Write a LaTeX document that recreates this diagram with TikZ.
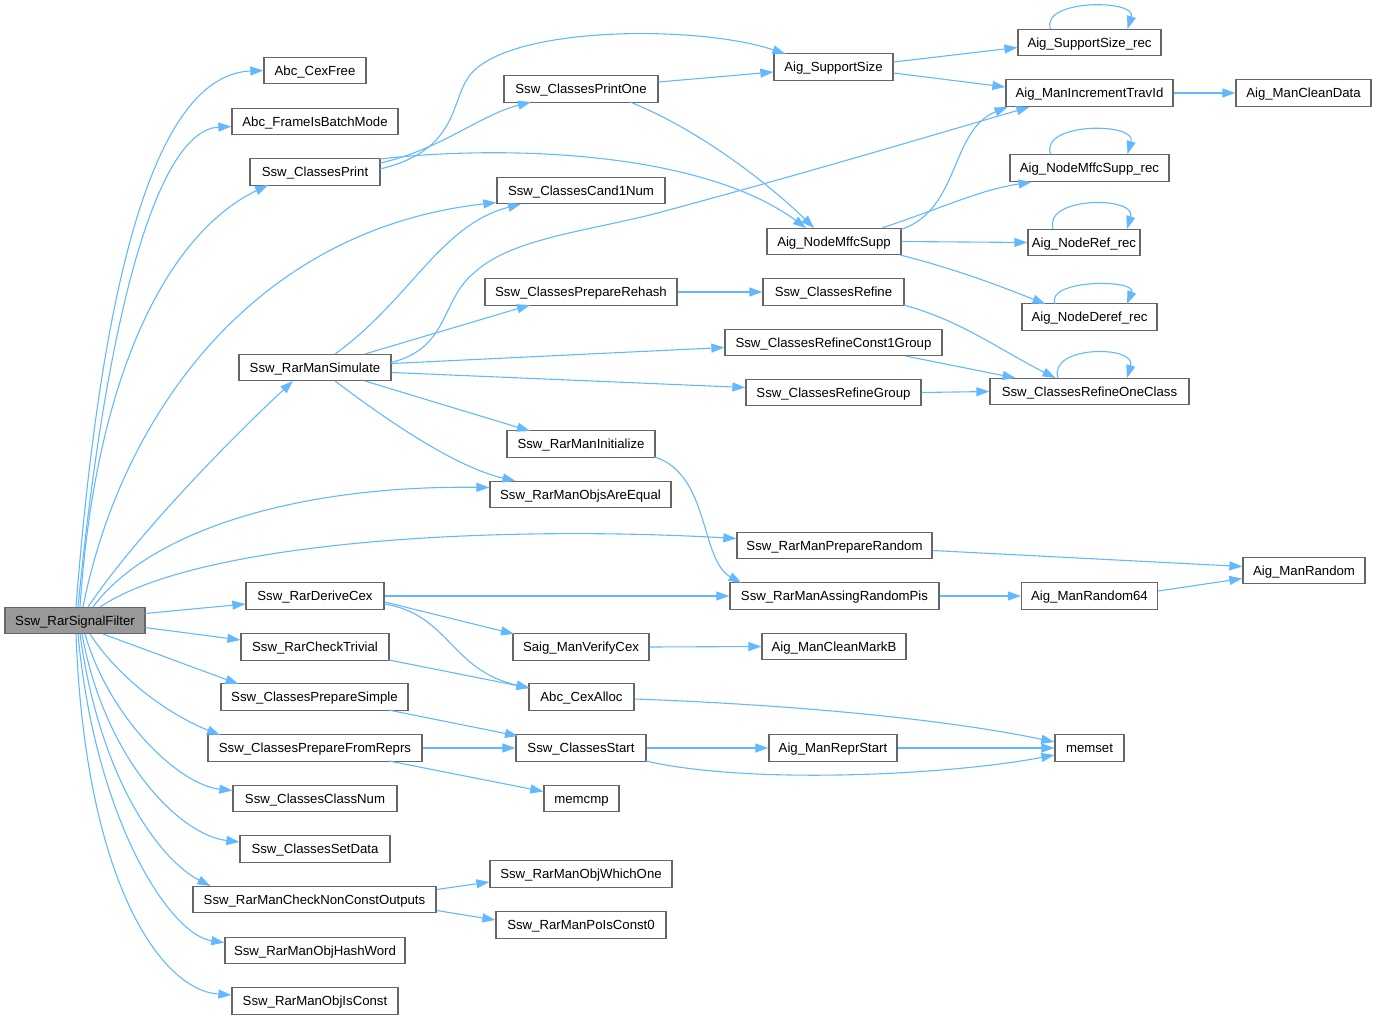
\documentclass[tikz,border=0pt]{standalone}
\usepackage{fontspec}
\setmainfont{Liberation Sans}
\usetikzlibrary{arrows.meta,calc}
\definecolor{edgeblue}{HTML}{63B8FF}
\definecolor{boxgray}{HTML}{666666}
\definecolor{rootfill}{HTML}{999999}
\begin{document}
\begin{tikzpicture}[x=1pt,y=-1pt,
  box/.style={draw=boxgray, line width=1.3pt, fill=white, minimum height=26.5pt, inner sep=0pt, text height=9.5pt, text depth=0pt, font=\fontsize{13.2}{15}\selectfont},
  root/.style={box, fill=rootfill},
  e/.style={draw=edgeblue, line width=1.1pt, -{Triangle[length=13pt,width=9pt]}}]
\useasboundingbox (0,0) rectangle (1377,1020);
% column 1
\node[root, minimum width=140] (f0) at (75,620.5) {Ssw\_RarSignalFilter};
% column 2
\node[box, minimum width=102] (cexfree) at (315,70.5) {Abc\_CexFree};
\node[box, minimum width=166] (batch) at (315,121.5) {Abc\_FrameIsBatchMode};
\node[box, minimum width=130] (cprint) at (315,172) {Ssw\_ClassesPrint};
\node[box, minimum width=152] (sim) at (315,367.5) {Ssw\_RarManSimulate};
\node[box, minimum width=138] (derive) at (315,596) {Ssw\_RarDeriveCex};
\node[box, minimum width=148] (trivial) at (315,647) {Ssw\_RarCheckTrivial};
\node[box, minimum width=187] (psimple) at (314.5,697) {Ssw\_ClassesPrepareSimple};
\node[box, minimum width=214] (preprs) at (315,748) {Ssw\_ClassesPrepareFromReprs};
\node[box, minimum width=164] (classnum) at (315,798.5) {Ssw\_ClassesClassNum};
\node[box, minimum width=150] (setdata) at (315,849) {Ssw\_ClassesSetData};
\node[box, minimum width=243] (nonconst) at (314.5,899.5) {Ssw\_RarManCheckNonConstOutputs};
\node[box, minimum width=180] (hash) at (315,950.5) {Ssw\_RarManObjHashWord};
\node[box, minimum width=166] (isconst) at (315,1001) {Ssw\_RarManObjIsConst};
% column 3
\node[box, minimum width=154] (printone) at (581,89) {Ssw\_ClassesPrintOne};
\node[box, minimum width=168] (cand) at (581,190.5) {Ssw\_ClassesCand1Num};
\node[box, minimum width=192] (rehash) at (581,292) {Ssw\_ClassesPrepareRehash};
\node[box, minimum width=148] (init) at (581,444) {Ssw\_RarManInitialize};
\node[box, minimum width=181] (equal) at (580.5,494.5) {Ssw\_RarManObjsAreEqual};
\node[box, minimum width=136] (verify) at (581,647) {Saig\_ManVerifyCex};
\node[box, minimum width=105] (alloc) at (581.5,697) {Abc\_CexAlloc};
\node[box, minimum width=130] (start) at (581,748) {Ssw\_ClassesStart};
\node[box, minimum width=75] (memcmp) at (581.5,798.5) {memcmp};
\node[box, minimum width=182] (which) at (581,874) {Ssw\_RarManObjWhichOne};
\node[box, minimum width=170] (po) at (581,925) {Ssw\_RarManPoIsConst0};
% column 4
\node[box, minimum width=119] (supp) at (833.5,67) {Aig\_SupportSize};
\node[box, minimum width=134] (mffc) at (834,241.5) {Aig\_NodeMffcSupp};
\node[box, minimum width=141] (refine) at (833.5,292) {Ssw\_ClassesRefine};
\node[box, minimum width=217] (const1) at (833.5,342.5) {Ssw\_ClassesRefineConst1Group};
\node[box, minimum width=175] (rgroup) at (833.5,392.5) {Ssw\_ClassesRefineGroup};
\node[box, minimum width=195] (prand) at (834.5,545.5) {Ssw\_RarManPrepareRandom};
\node[box, minimum width=209] (assign) at (834.5,596) {Ssw\_RarManAssingRandomPis};
\node[box, minimum width=144] (markb) at (834,646.5) {Aig\_ManCleanMarkB};
\node[box, minimum width=128] (repr) at (833,748) {Aig\_ManReprStart};
% column 5
\node[box, minimum width=143] (supprec) at (1089.5,42.5) {Aig\_SupportSize\_rec};
\node[box, minimum width=167] (travid) at (1089.5,93) {Aig\_ManIncrementTravId};
\node[box, minimum width=159] (mffcrec) at (1089.5,168) {Aig\_NodeMffcSupp\_rec};
\node[box, minimum width=112] (refrec) at (1084,242.5) {Aig\_NodeRef\_rec};
\node[box, minimum width=135] (derefrec) at (1089.5,317) {Aig\_NodeDeref\_rec};
\node[box, minimum width=199] (oneclass) at (1089.5,391.5) {Ssw\_ClassesRefineOneClass};
\node[box, minimum width=136] (rand64) at (1089.5,596) {Aig\_ManRandom64};
\node[box, minimum width=69] (memset) at (1089.5,748) {memset};
% column 6
\node[box, minimum width=135] (cleandata) at (1303.5,93) {Aig\_ManCleanData};
\node[box, minimum width=122] (rand) at (1304,570.5) {Aig\_ManRandom};

% edges from root
\draw[e] ($(f0)+(1,-13.5)$) .. controls (100,300) and (150,75) .. (cexfree.west);
\draw[e] ($(f0)+(3,-13.5)$) .. controls (108,300) and (160,130) .. ($(batch.west)+(0,5)$);
\draw[e] ($(f0)+(5,-13.5)$) .. controls (95,380) and (165,235) .. ($(cprint)+(-47,13)$);
\draw[e] ($(f0)+(8,-13.5)$) .. controls (120,420) and (250,230) .. ($(cand.west)+(0,12)$);
\draw[e] ($(f0)+(13,-13.5)$) .. controls (140,530) and (240,430) .. ($(sim)+(-22,13.5)$);
\draw[e] ($(f0)+(18,-13.5)$) .. controls (150,530) and (300,485) .. ($(equal.west)+(0,-7)$);
\draw[e] ($(f0)+(25,-13.5)$) .. controls (200,540) and (500,525) .. ($(prand.west)+(0,-7)$);
\draw[e] ($(f0)+(70,-7)$) -- ($(derive.west)+(0,8)$);
\draw[e] ($(f0)+(70,7)$) -- ($(trivial.west)+(0,-7)$);
\draw[e] ($(f0)+(28,13.5)$) -- ($(psimple)+(-76,-13)$);
\draw[e] ($(f0)+(15,13.5)$) .. controls (120,680) and (170,715) .. ($(preprs)+(-95,-13)$);
\draw[e] ($(f0)+(10,13.5)$) .. controls (110,720) and (180,785) .. ($(classnum.west)+(0,-8)$);
\draw[e] ($(f0)+(7,13.5)$) .. controls (105,760) and (180,835) .. ($(setdata.west)+(0,-7)$);
\draw[e] ($(f0)+(5,13.5)$) .. controls (100,780) and (160,860) .. ($(nonconst)+(-104,-13.5)$);
\draw[e] ($(f0)+(3,13.5)$) .. controls (95,820) and (170,935) .. ($(hash.west)+(0,-8)$);
\draw[e] ($(f0)+(1,13.5)$) .. controls (85,880) and (160,990) .. ($(isconst.west)+(0,-6)$);

% Ssw_ClassesPrint
\draw[e] ($(cprint)+(65,-9)$) .. controls (440,150) and (480,115) .. ($(printone)+(-50,13)$);
\draw[e] ($(cprint)+(65,-3)$) .. controls (460,150) and (450,100) .. (470,75) .. controls (510,25) and (700,25) .. ($(supp)+(-48,-13)$);
\draw[e] ($(cprint)+(65,-13)$) .. controls (500,145) and (700,150) .. ($(mffc)+(-28,-13.5)$);
% Ssw_ClassesPrintOne
\draw[e] ($(printone.east)+(0,-7)$) -- ($(supp.west)+(0,5)$);
\draw[e] ($(printone)+(49,13)$) .. controls (700,130) and (770,185) .. ($(mffc)+(-20,-13.5)$);
% Aig_SupportSize
\draw[e] ($(supp.east)+(0,-5)$) -- ($(supprec.west)+(0,5)$);
\draw[e] ($(supp.east)+(0,6)$) -- ($(travid.west)+(0,-6)$);
\draw[e] (travid.east) -- (cleandata.west);
% Aig_NodeMffcSupp
\draw[e] ($(mffc)+(67,-12)$) .. controls (960,210) and (950,130) .. ($(travid)+(-82,14)$);
\draw[e] ($(mffc)+(48,-13.5)$) .. controls (950,205) and (980,190) .. ($(mffcrec)+(-58,14)$);
\draw[e] (mffc.east) -- (refrec.west);
\draw[e] ($(mffc)+(66,13.5)$) .. controls (960,270) and (1010,290) .. ($(derefrec)+(-44,-13)$);
% Ssw_RarManSimulate
\draw[e] ($(sim)+(20,-13.5)$) .. controls (410,300) and (440,225) .. ($(cand)+(-60,13.5)$);
\draw[e] ($(sim)+(76,-5)$) .. controls (450,348) and (440,300) .. (475,272) .. controls (510,240) and (580,232) .. (650,215) .. controls (800,175) and (950,130) .. ($(travid)+(-60,14)$);
\draw[e] ($(sim)+(50,-13.5)$) -- ($(rehash)+(-51,13)$);
\draw[e] ($(sim.east)+(0,-4)$) -- ($(const1.west)+(0,5)$);
\draw[e] ($(sim.east)+(0,5)$) -- ($(rgroup.west)+(0,-5)$);
\draw[e] ($(sim)+(50,13.5)$) -- ($(init)+(-51,-13)$);
\draw[e] ($(sim)+(20,13.5)$) .. controls (400,430) and (460,468) .. ($(equal)+(-65,-13.5)$);
% refine family
\draw[e] (rehash.east) -- (refine.west);
\draw[e] ($(refine)+(70,13)$) .. controls (960,320) and (1000,350) .. ($(oneclass)+(-34,-13.5)$);
\draw[e] ($(const1)+(72,13.5)$) -- ($(oneclass)+(-74,-13.5)$);
\draw[e] (rgroup.east) -- (oneclass.west);
% random
\draw[e] ($(init)+(74,13)$) .. controls (710,475) and (700,560) .. ($(assign)+(-93,-13)$);
\draw[e] ($(prand.east)+(0,5)$) -- ($(rand.west)+(0,-4)$);
\draw[e] (assign.east) -- (rand64.west);
\draw[e] ($(rand64.east)+(0,-5)$) -- ($(rand.west)+(0,8)$);
% derive cex
\draw[e] (derive.east) -- (assign.west);
\draw[e] ($(derive.east)+(0,6)$) -- ($(verify)+(-67,-13)$);
\draw[e] ($(derive.east)+(0,8)$) .. controls (450,615) and (450,670) .. ($(alloc)+(-52,-9)$);
\draw[e] (verify.east) -- (markb.west);
\draw[e] ($(trivial)+(74,13)$) -- ($(alloc)+(-52,-9)$);
% classes start
\draw[e] ($(psimple)+(74,13)$) -- ($(start)+(-63,-12)$);
\draw[e] (preprs.east) -- (start.west);
\draw[e] ($(preprs)+(74,13)$) -- ($(memcmp.west)+(0,-7)$);
\draw[e] ($(alloc.east)+(0,2)$) .. controls (800,705) and (950,720) .. ($(memset.west)+(0,-6)$);
\draw[e] (start.east) -- (repr.west);
\draw[e] ($(start)+(65,13)$) .. controls (750,785) and (950,775) .. ($(memset.west)+(0,7)$);
\draw[e] (repr.east) -- (memset.west);
% non const outputs
\draw[e] ($(nonconst.east)+(0,-10)$) -- ($(which.west)+(0,8)$);
\draw[e] ($(nonconst.east)+(0,11)$) -- ($(po.west)+(0,-5)$);
% self loops
\draw[e] ($(supprec)+(-39,-13.5)$) .. controls (1040,-1) and (1137,-1) .. ($(supprec)+(38,-13.5)$);
\draw[e] ($(mffcrec)+(-39,-14)$) .. controls (1040,122) and (1137,122) .. ($(mffcrec)+(38,-14)$);
\draw[e] ($(refrec)+(-31,-13.5)$) .. controls (1043,196) and (1137,196) .. ($(refrec)+(43,-13.5)$);
\draw[e] ($(derefrec)+(-34.5,-13)$) .. controls (1045,279) and (1137,279) .. ($(derefrec)+(37.5,-13)$);
\draw[e] ($(oneclass)+(-31.5,-13.5)$) .. controls (1048,345) and (1137,345) .. ($(oneclass)+(37.5,-13.5)$);
\end{tikzpicture}
\end{document}
